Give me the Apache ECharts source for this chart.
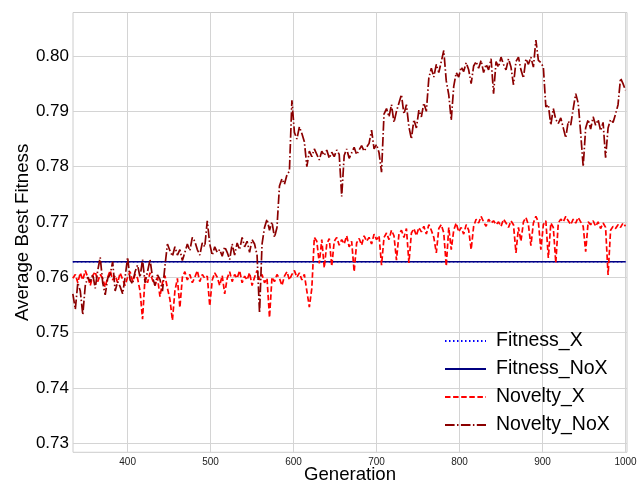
<!DOCTYPE html>
<html>
<head>
<meta charset="utf-8">
<script src="https://cdn.jsdelivr.net/npm/echarts@6/dist/echarts.min.js"></script>
<style>
html,body{margin:0;padding:0;background:#fff;}
#chart{width:640px;height:484px;}
</style>
</head>
<body>
<div id="chart"></div>
<script>
// Generations sampled every 3 steps from 334 to 1000
var genStart = 334, genStep = 3;

var fitnessGens = [334, 1000];
var fitnessX = [0.7628, 0.7628];
var fitnessNoX = [0.7628, 0.7628];

var noveltyX = [
  0.7598,0.7605,0.7590,0.7608,0.7595,0.7612,0.7600,0.7585,0.7603,0.7610,
  0.7592,0.7605,0.7598,0.7582,0.7600,0.7612,0.7595,0.7603,0.7590,0.7608,
  0.7596,0.7585,0.7600,0.7610,0.7592,0.7605,0.7598,0.7575,0.7524,0.7600,
  0.7590,0.7608,0.7595,0.7585,0.7600,0.7565,0.7590,0.7603,0.7580,0.7560,
  0.7522,0.7575,0.7598,0.7545,0.7600,0.7610,0.7595,0.7605,0.7590,0.7600,
  0.7612,0.7592,0.7605,0.7598,0.7602,0.7548,0.7595,0.7608,0.7600,0.7585,
  0.7603,0.7570,0.7598,0.7610,0.7592,0.7605,0.7598,0.7612,0.7590,0.7602,
  0.7595,0.7608,0.7585,0.7600,0.7612,0.7595,0.7605,0.7590,0.7598,0.7527,
  0.7600,0.7592,0.7605,0.7598,0.7585,0.7602,0.7610,0.7595,0.7605,0.7612,
  0.7600,0.7608,0.7595,0.7605,0.7575,0.7546,0.7580,0.7672,0.7665,0.7625,
  0.7668,0.7617,0.7660,0.7670,0.7620,0.7665,0.7672,0.7658,0.7668,0.7660,
  0.7675,0.7655,0.7665,0.7610,0.7662,0.7670,0.7658,0.7675,0.7665,0.7672,
  0.7660,0.7678,0.7668,0.7675,0.7622,0.7672,0.7680,0.7668,0.7685,0.7675,
  0.7631,0.7678,0.7685,0.7672,0.7688,0.7626,0.7680,0.7688,0.7675,0.7690,
  0.7682,0.7692,0.7678,0.7695,0.7685,0.7672,0.7644,0.7688,0.7695,0.7680,
  0.7620,0.7690,0.7650,0.7685,0.7698,0.7682,0.7690,0.7678,0.7695,0.7685,
  0.7650,0.7692,0.7705,0.7698,0.7710,0.7700,0.7692,0.7705,0.7698,0.7702,
  0.7695,0.7700,0.7692,0.7705,0.7698,0.7690,0.7702,0.7695,0.7644,0.7690,
  0.7665,0.7700,0.7708,0.7695,0.7657,0.7698,0.7710,0.7700,0.7650,0.7695,
  0.7702,0.7635,0.7698,0.7690,0.7626,0.7698,0.7705,0.7700,0.7710,0.7702,
  0.7695,0.7705,0.7698,0.7708,0.7700,0.7692,0.7646,0.7700,0.7695,0.7702,
  0.7692,0.7700,0.7688,0.7698,0.7690,0.7604,0.7685,0.7692,0.7688,0.7695,
  0.7690,0.7698,0.7692
];

var noveltyNoX = [
  0.7570,0.7542,0.7590,0.7575,0.7532,0.7585,0.7600,0.7592,0.7605,0.7580,
  0.7612,0.7636,0.7590,0.7568,0.7598,0.7605,0.7628,0.7575,0.7592,0.7583,
  0.7570,0.7600,0.7636,0.7595,0.7588,0.7610,0.7622,0.7600,0.7632,0.7590,
  0.7610,0.7632,0.7600,0.7585,0.7604,0.7596,0.7575,0.7620,0.7660,0.7648,
  0.7638,0.7655,0.7640,0.7650,0.7630,0.7645,0.7660,0.7648,0.7672,0.7665,
  0.7650,0.7640,0.7662,0.7655,0.7702,0.7660,0.7640,0.7655,0.7645,0.7650,
  0.7638,0.7655,0.7645,0.7632,0.7660,0.7640,0.7662,0.7650,0.7672,0.7655,
  0.7665,0.7645,0.7668,0.7660,0.7640,0.7535,0.7660,0.7690,0.7705,0.7685,
  0.7700,0.7672,0.7690,0.7765,0.7778,0.7768,0.7785,0.7792,0.7920,0.7862,
  0.7850,0.7872,0.7860,0.7845,0.7800,0.7828,0.7818,0.7832,0.7822,0.7812,
  0.7828,0.7820,0.7830,0.7815,0.7826,0.7818,0.7830,0.7822,0.7746,0.7820,
  0.7832,0.7815,0.7825,0.7835,0.7822,0.7830,0.7838,0.7828,0.7835,0.7842,
  0.7866,0.7832,0.7840,0.7825,0.7790,0.7895,0.7905,0.7890,0.7912,0.7880,
  0.7900,0.7915,0.7930,0.7895,0.7912,0.7872,0.7850,0.7885,0.7870,0.7902,
  0.7890,0.7915,0.7900,0.7960,0.7978,0.7962,0.7985,0.7970,0.7990,0.8010,
  0.7955,0.7930,0.7884,0.7945,0.7970,0.7962,0.7980,0.7972,0.7988,0.7975,
  0.7950,0.7982,0.7990,0.7978,0.7992,0.7970,0.7985,0.7975,0.7995,0.7932,
  0.7990,0.7980,0.7998,0.7985,0.7975,0.7995,0.7980,0.7948,0.7990,0.7998,
  0.7975,0.7960,0.7995,0.7985,0.7998,0.7980,0.8029,0.7992,0.7988,0.7980,
  0.7908,0.7912,0.7875,0.7905,0.7885,0.7878,0.7888,0.7870,0.7852,0.7882,
  0.7875,0.7905,0.7932,0.7915,0.7860,0.7800,0.7870,0.7885,0.7868,0.7890,
  0.7875,0.7885,0.7865,0.7880,0.7816,0.7870,0.7885,0.7880,0.7895,0.7912,
  0.7960,0.7950,0.7938
];

var xTicks = [400, 500, 600, 700, 800, 900, 1000];
var yTicks = [0.73, 0.74, 0.75, 0.76, 0.77, 0.78, 0.79, 0.80];
var seriesNames = ['Fitness_X', 'Fitness_NoX', 'Novelty_X', 'Novelty_NoX'];

function pairs(gens, vals) {
  var out = [];
  for (var i = 0; i < vals.length; i++) out.push([gens[i], vals[i]]);
  return out;
}
var gens = [];
for (var i = 0; i < noveltyX.length; i++) gens.push(genStart + i * genStep);

var chart = echarts.init(document.getElementById('chart'), null, {renderer: 'canvas'});
var font = '"Liberation Sans", Arial, sans-serif';

chart.setOption({
  animation: false,
  backgroundColor: '#ffffff',
  grid: {
    left: 73, right: 13, top: 12.5, bottom: 31.7,
    containLabel: false, outerBoundsMode: 'none',
    show: true, borderColor: '#cccccc', borderWidth: 1, backgroundColor: '#ffffff'
  },
  xAxis: {
    type: 'value', min: 334.2, max: 1001.8,
    name: 'Generation', nameLocation: 'middle', nameGap: 13, nameMoveOverlap: false,
    nameTextStyle: {fontFamily: font, fontSize: 18.6, color: '#000', verticalAlign: 'top'},
    axisLine: {show: false}, axisTick: {show: false, customValues: xTicks},
    axisLabel: {customValues: xTicks, fontFamily: font, fontSize: 10, color: '#222', margin: 5,
      formatter: function (v) { return String(Math.round(v)); }},
    splitLine: {show: true, lineStyle: {color: '#d4d4d4', width: 1}}
  },
  yAxis: {
    type: 'value', min: 0.72834, max: 0.80787,
    name: 'Average Best Fitness', nameLocation: 'middle', nameGap: 41, nameRotate: 90,
    nameMoveOverlap: false,
    nameTextStyle: {fontFamily: font, fontSize: 18.7, color: '#000'},
    axisLine: {show: false}, axisTick: {show: false, customValues: yTicks},
    axisLabel: {customValues: yTicks, fontFamily: font, fontSize: 17, color: '#000', margin: 4,
      formatter: function (v) { return v.toFixed(2); }},
    splitLine: {show: true, lineStyle: {color: '#d4d4d4', width: 1}}
  },
  legend: {
    orient: 'vertical', left: 439, top: 326,
    itemWidth: 41, itemHeight: 14, itemGap: 8,
    data: seriesNames,
    itemStyle: {opacity: 0},
    textStyle: {fontFamily: font, fontSize: 19.5, color: '#000', lineHeight: 20, padding: [0, 0, 0, 5]}
  },
  series: [
    {name: 'Fitness_X', type: 'line', data: pairs(fitnessGens, fitnessX), symbol: 'none',
      lineStyle: {color: '#0000ff', width: 1.5, type: [1.5, 2.5]}, itemStyle: {color: '#0000ff'}},
    {name: 'Fitness_NoX', type: 'line', data: pairs(fitnessGens, fitnessNoX), symbol: 'none',
      lineStyle: {color: '#000080', width: 1.6, type: 'solid'}, itemStyle: {color: '#000080'}},
    {name: 'Novelty_X', type: 'line', data: pairs(gens, noveltyX), symbol: 'none',
      lineStyle: {color: '#ff0000', width: 1.7, type: [5.5, 2.6]}, itemStyle: {color: '#ff0000'}},
    {name: 'Novelty_NoX', type: 'line', data: pairs(gens, noveltyNoX), symbol: 'none',
      lineStyle: {color: '#8b0000', width: 1.7, type: [9.6, 2.4, 1.5, 2.4]}, itemStyle: {color: '#8b0000'}}
  ]
});
</script>
</body>
</html>
